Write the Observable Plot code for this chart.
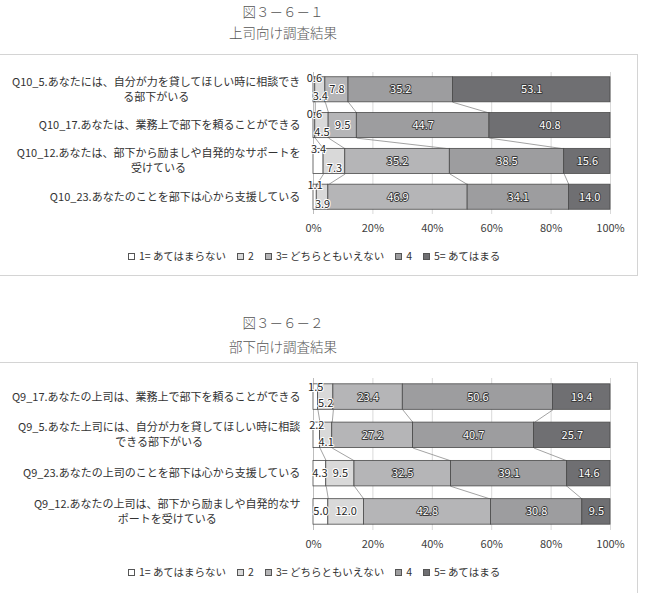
<!DOCTYPE html>
<html><head><meta charset="utf-8">
<script src="https://cdn.jsdelivr.net/npm/d3@7"></script>
<script src="https://cdn.jsdelivr.net/npm/@observablehq/plot@0.6"></script>
<style>
body{margin:0;background:#fff;font-family:"Noto Sans CJK JP","Noto Sans",sans-serif;}
#root{position:relative;width:663px;height:593px;overflow:hidden;}
.title{position:absolute;left:183px;width:200px;text-align:center;font-size:13.5px;color:#555;line-height:1;white-space:nowrap;font-weight:300;}
.frame{position:absolute;left:-1px;width:639px;border:1px solid #d4d4d4;box-sizing:border-box;}
.chart{position:absolute;left:0;top:0;}
.legend{position:absolute;left:128px;display:flex;align-items:center;gap:11px;font-size:10.5px;color:#333;line-height:1;white-space:nowrap;}
.legend .it{display:flex;align-items:center;}
.legend .sw{width:7px;height:7px;border:1px solid #555;box-sizing:border-box;margin-right:4px;}
</style>
</head><body>
<div id="root">
  <div class="title" style="top:5px">図３－６－１</div>
  <div class="title" style="top:26px">上司向け調査結果</div>
  <div class="frame" style="top:54px;height:222px"></div>
  <div class="chart" id="c1" style="top:55px"></div>
  <div class="legend" id="lg1" style="top:251px"></div>

  <div class="title" style="top:316px">図３－６－２</div>
  <div class="title" style="top:340px">部下向け調査結果</div>
  <div class="frame" style="top:362px;height:232px"></div>
  <div class="chart" id="c2" style="top:363px"></div>
  <div class="legend" id="lg2" style="top:567px"></div>
</div>
<script>
// ---- data ----
const xTicks = [0, 20, 40, 60, 80, 100];
const levels = ["1= あてはまらない", "2", "3= どちらともいえない", "4", "5= あてはまる"];
const colors = ["#ffffff", "#d9d9d9", "#b5b5b7", "#9d9d9f", "#6f6f72"];

const questionsA = [
  "Q10_5.あなたには、自分が力を貸してほしい時に相談でき\nる部下がいる",
  "Q10_17.あなたは、業務上で部下を頼ることができる",
  "Q10_12.あなたは、部下から励ましや自発的なサポートを\n受けている",
  "Q10_23.あなたのことを部下は心から支援している"
];
const lv1A = [0.6, 0.6, 3.4, 1.1];
const lv2A = [3.4, 4.5, 7.3, 3.9];
const lv3A = [7.8, 9.5, 35.2, 46.9];
const lv4A = [35.2, 44.7, 38.5, 34.1];
const lv5A = [53.1, 40.8, 15.6, 14.0];

const questionsB = [
  "Q9_17.あなたの上司は、業務上で部下を頼ることができる",
  "Q9_5.あなた上司には、自分が力を貸してほしい時に相談\nできる部下がいる",
  "Q9_23.あなたの上司のことを部下は心から支援している",
  "Q9_12.あなたの上司は、部下から励ましや自発的なサ\nポートを受けている"
];
const lv1B = [1.5, 2.2, 4.3, 5.0];
const lv2B = [5.2, 4.1, 9.5, 12.0];
const lv3B = [23.4, 27.2, 32.5, 42.8];
const lv4B = [50.6, 40.7, 39.1, 30.8];
const lv5B = [19.4, 25.7, 14.6, 9.5];

const FONT = '"Noto Sans CJK JP","Noto Sans",sans-serif';
const ctx = document.createElement("canvas").getContext("2d");
ctx.font = '11px "Noto Sans CJK JP"';

function build(el, labels, series, opt) {
  const W = 638, ML = 313, MR = 28;
  const ppu = (W - ML - MR) / 100; // px per percent unit
  const plotH = opt.height - opt.mt - opt.mb;
  const pyu = plotH / (opt.ydom[1] - opt.ydom[0]); // px per category unit
  const n = labels.length;
  const segs = [], texts = [], links = [], cums = [];
  // label lines: centered on each other, widest line ending 13px left of the axis
  const lines = [];
  labels.forEach((q, i) => {
    const ls = q.split("\n");
    const w = d3.max(ls, l => ctx.measureText(l).width);
    ls.forEach((l, j) => lines.push({
      t: l,
      x: -(13 + w / 2) / ppu,
      y: i + (j - (ls.length - 1) / 2) * 15 / pyu
    }));
  });
  for (let i = 0; i < n; i++) {
    const vals = series.map(s => s[i]);
    const tot = d3.sum(vals);
    let c = 0; const row = [0];
    const stagger = vals[0] < 4;
    vals.forEach((v, k) => {
      const x1 = c / tot * 100; c += v; const x2 = c / tot * 100;
      row.push(x2);
      segs.push({i, k, x1, x2, y1: i - opt.h, y2: i + opt.h, v});
      const off = stagger && k === 0 ? -opt.up : stagger && k === 1 ? opt.down : 0;
      const dark = k <= 1 || (k === 2 && v < 10);
      texts.push({k, x: (x1 + x2) / 2, y: i + off, t: v.toFixed(1), dark});
    });
    cums.push(row);
  }
  for (let i = 0; i < n - 1; i++)
    for (let k = 1; k < 5; k++)
      links.push({x1: cums[i][k], x2: cums[i + 1][k], y1: i + opt.h, y2: i + 1 - opt.h});

  const chart = Plot.plot({
    width: W,
    height: opt.height,
    marginLeft: ML,
    marginRight: MR,
    marginTop: opt.mt,
    marginBottom: opt.mb,
    style: {fontFamily: FONT, fontSize: "11px", color: "#404040", overflow: "visible", background: "transparent"},
    x: {domain: [0, 100], ticks: xTicks, tickFormat: d => d + "%", tickSize: 0, tickPadding: 10, label: null},
    y: {domain: opt.ydom, reverse: true, axis: null},
    marks: [
      Plot.ruleX(xTicks, {stroke: "#d9d9d9", strokeWidth: 1}),
      Plot.ruleX([0], {stroke: "#bdbdbd", strokeWidth: 1}),
      Plot.link(links, {x1: "x1", x2: "x2", y1: "y1", y2: "y2", stroke: "#8c8c8c", strokeWidth: 0.8}),
      Plot.rect(segs, {x1: "x1", x2: "x2", y1: "y1", y2: "y2", fill: d => colors[d.k], stroke: "#4a4a4a", strokeWidth: 0.8}),
      Plot.text(texts.filter(d => d.dark), {x: "x", y: "y", text: "t", fill: "#262626", stroke: "white", strokeWidth: 2, fontSize: 11}),
      Plot.text(texts.filter(d => !d.dark), {x: "x", y: "y", text: "t", fill: "white", stroke: "#3a3a3a", strokeWidth: 1.8, fontSize: 11}),
      Plot.text(lines, {x: "x", y: "y", text: "t", textAnchor: "middle", fill: "#333", fontSize: 11})
    ]
  });
  el.appendChild(chart);
}

function legend(el) {
  levels.forEach((l, k) => {
    const it = document.createElement("div"); it.className = "it";
    const sw = document.createElement("div"); sw.className = "sw"; sw.style.background = colors[k];
    const tx = document.createElement("span"); tx.textContent = l;
    it.appendChild(sw); it.appendChild(tx); el.appendChild(it);
  });
}

build(document.getElementById("c1"), questionsA, [lv1A, lv2A, lv3A, lv4A, lv5A],
  {h: 0.35, ydom: [-0.483, 3.483], mt: 17, mb: 30, height: 17 + 142 + 30, up: 0.32, down: 0.2});
build(document.getElementById("c2"), questionsB, [lv1B, lv2B, lv3B, lv4B, lv5B],
  {h: 0.333, ydom: [-0.485, 3.485], mt: 15, mb: 30, height: 15 + 152 + 30, up: 0.26, down: 0.18});
legend(document.getElementById("lg1"));
legend(document.getElementById("lg2"));
</script>
</body></html>
